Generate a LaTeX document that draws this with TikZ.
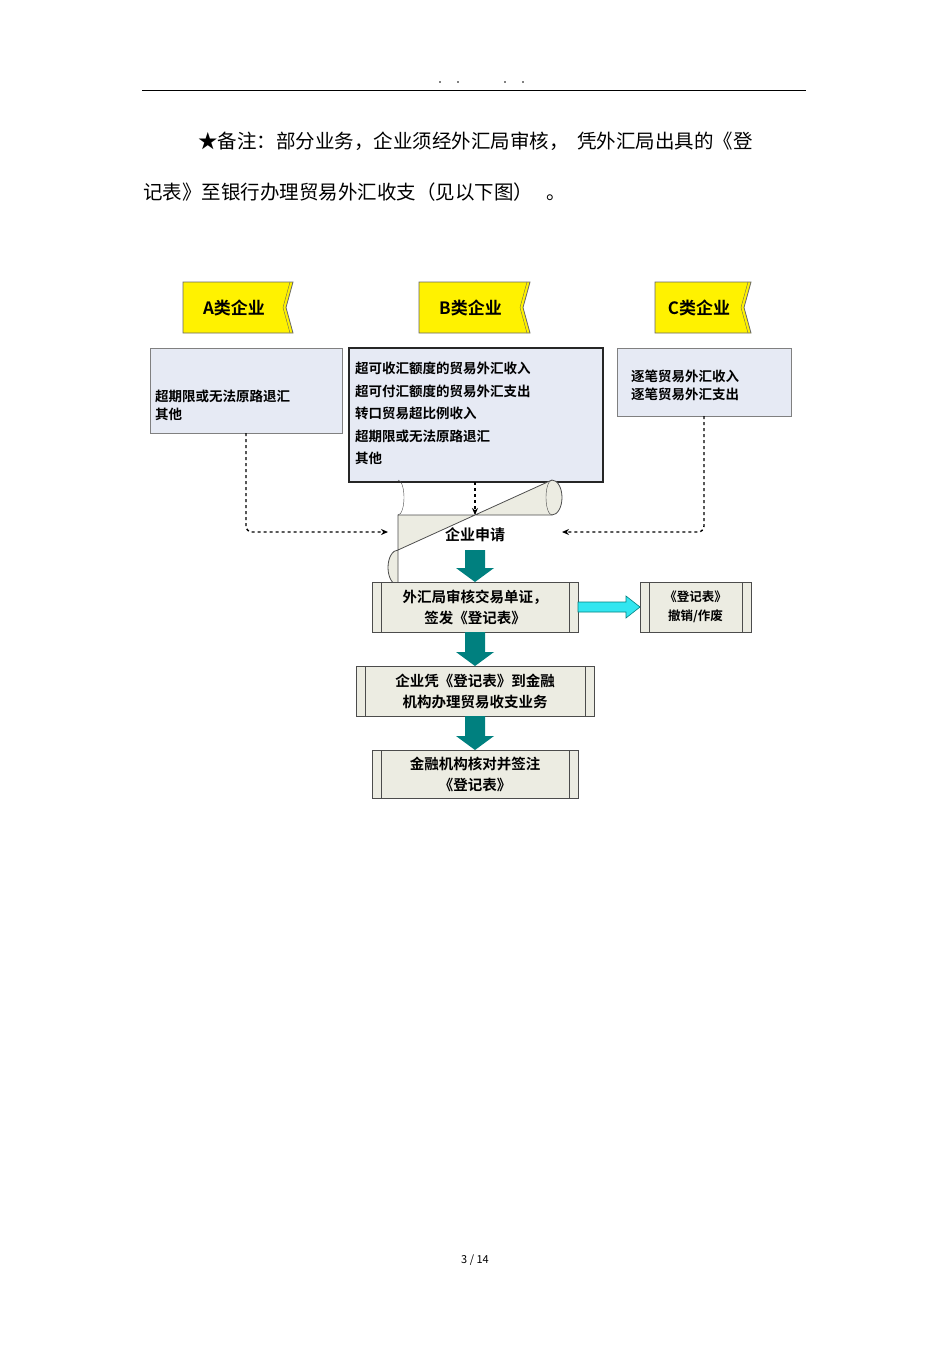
\documentclass[tikz,border=0pt]{standalone}
\usepackage{fontspec}
\newfontfamily\cjk{Noto Sans CJK SC}
\newfontfamily\cjkb{Noto Sans CJK SC Bold}
\usetikzlibrary{arrows.meta}
\definecolor{ylw}{HTML}{FFF200}
\definecolor{lblue}{HTML}{E6EAF4}
\definecolor{beige}{HTML}{ECECE2}
\definecolor{teal2}{HTML}{00807F}
\definecolor{cy}{HTML}{33E6F0}
\tikzset{
  ybox/.style={fill=ylw,draw=black!60,line width=0.8pt},
  txt/.style={font=\cjkb\fontsize{13.5pt}{18pt}\selectfont,align=left,inner sep=0pt},
  proc/.style={fill=beige,draw=black!70,line width=0.7pt},
  dsh/.style={dashed,line width=1.4pt,-{Stealth[length=7pt,width=6pt]}},
}
\newcommand{\procbox}[5]{% name x1 y1 x2 y2
  \filldraw[proc] (#2,#3) rectangle (#4,#5);
  \draw[black!70,line width=0.7pt] (#2+9,#3)--(#2+9,#5) (#4-9,#3)--(#4-9,#5);
  \coordinate (#1) at ({(#2+#4)/2},{(#3+#5)/2});}
\newcommand{\ylwbox}[5]{%
  \filldraw[ybox] (#2,#3)--(#4,#3)--(#4-7,{(#3+#5)/2})--(#4,#5)--(#2,#5)--cycle;
  \draw[black!60] (#4-3,#3)--(#4-10,{(#3+#5)/2})--(#4-3,#5);
  \coordinate (#1) at ({(#2+#4)/2-4},{(#3+#5)/2});}
\begin{document}
\begin{tikzpicture}[x=1pt,y=-1pt]
\useasboundingbox (0,0) rectangle (950,1345);
% header
\draw[line width=0.6pt] (142,90)--(806,90);
\foreach \x in {440,458,505,523} \fill (\x,82) circle (0.8);
\node[anchor=west,inner sep=0pt,font=\cjk\fontsize{19.5pt}{20pt}\selectfont] (l1) at (198,141) {★备注：部分业务，企业须经外汇局审核，\ \ 凭外汇局出具的《登};
\node[anchor=west,inner sep=0pt,font=\cjk\fontsize{19.5pt}{20pt}\selectfont] (l2) at (143,192) {记表》至银行办理贸易外汇收支（见以下图）\ \ \ 。};
% yellow
\ylwbox{ya}{183}{282}{293}{333}
\ylwbox{yb}{419}{282}{530}{333}
\ylwbox{yc}{655}{282}{751}{333}
\node[txt,font=\cjkb\fontsize{17pt}{18pt}\selectfont] at (ya) {A类企业};
\node[txt,font=\cjkb\fontsize{17pt}{18pt}\selectfont] at (yb) {B类企业};
\node[txt,font=\cjkb\fontsize{17pt}{18pt}\selectfont] at (yc) {C类企业};
% category boxes
\filldraw[fill=lblue,draw=black!50,line width=0.8pt] (150,348) rectangle (342,433);
\filldraw[fill=lblue,draw=black!85,line width=1.3pt] (349,348) rectangle (603,482);
\filldraw[fill=lblue,draw=black!50,line width=0.8pt] (617,348) rectangle (791,416);
\coordinate (ab) at (246,433); \coordinate (bb) at (475,482); \coordinate (cb) at (704,416);
\node[txt,anchor=west] (ta) at (155,405) {超期限或无法原路退汇\\其他};
\node[txt,anchor=north west,font=\cjkb\fontsize{13.5pt}{22.5pt}\selectfont] (tb) at (355,362) {超可收汇额度的贸易外汇收入\\超可付汇额度的贸易外汇支出\\转口贸易超比例收入\\超期限或无法原路退汇\\其他};
\node[txt,anchor=west] (tc) at (631,385) {逐笔贸易外汇收入\\逐笔贸易外汇支出};
% apply
\filldraw[fill=beige,draw=black!70,line width=0.8pt] (398,515)--(552,515) arc[start angle=90,end angle=-90,x radius=10,y radius=17.5]--(398,550) arc[start angle=270,end angle=90,x radius=10,y radius=17.5]--cycle;
\draw[black!70] (398,515) arc[start angle=90,end angle=-90,x radius=6,y radius=17.5];
\draw[black!70] (552,515) arc[start angle=90,end angle=270,x radius=6,y radius=17.5];
\node[txt,font=\cjkb\fontsize{15pt}{18pt}\selectfont] (ap) at (475,535) {企业申请};
\coordinate (apl) at (388,532); \coordinate (apr) at (562,532); \coordinate (apt) at (475,515);
\draw[dsh,rounded corners=6pt] (ab)--(246,532)--(apl);
\draw[dsh,rounded corners=6pt] (cb)--(704,532)--(apr);
\draw[dsh] (bb)--(apt);
% process boxes
\procbox{p1}{372}{582}{578}{632}
\procbox{p2}{356}{666}{594}{716}
\procbox{p3}{372}{750}{578}{798}
\procbox{p4}{640}{582}{751}{632}
\node[txt,align=center,font=\cjkb\fontsize{14.5pt}{21pt}\selectfont] at (p1) {外汇局审核交易单证，\\签发《登记表》};
\node[txt,align=center,font=\cjkb\fontsize{14.5pt}{21pt}\selectfont] at (p2) {企业凭《登记表》到金融\\机构办理贸易收支业务};
\node[txt,align=center,font=\cjkb\fontsize{14.5pt}{21pt}\selectfont] at (p3) {金融机构核对并签注\\《登记表》};
\node[txt,align=center,font=\cjkb\fontsize{12.5pt}{19pt}\selectfont] at (p4) {《登记表》\\撤销/作废};
% teal arrows
\foreach \a/\b in {550/582,632/666,716/750}{
  \fill[teal2] (465,\a)--(485,\a)--(485,\b-14)--(494,\b-14)--(475,\b)--(456,\b-14)--(465,\b-14)--cycle;}
% cyan arrow
\filldraw[fill=cy,draw=teal2,line width=0.6pt] (578,602)--(626,602)--(626,596)--(640,607)--(626,618)--(626,612)--(578,612)--cycle;
% footer
\node[font=\cjk\fontsize{11pt}{12pt}\selectfont] (ft) at (475,1260) {3 / 14};
\end{tikzpicture}
\end{document}
